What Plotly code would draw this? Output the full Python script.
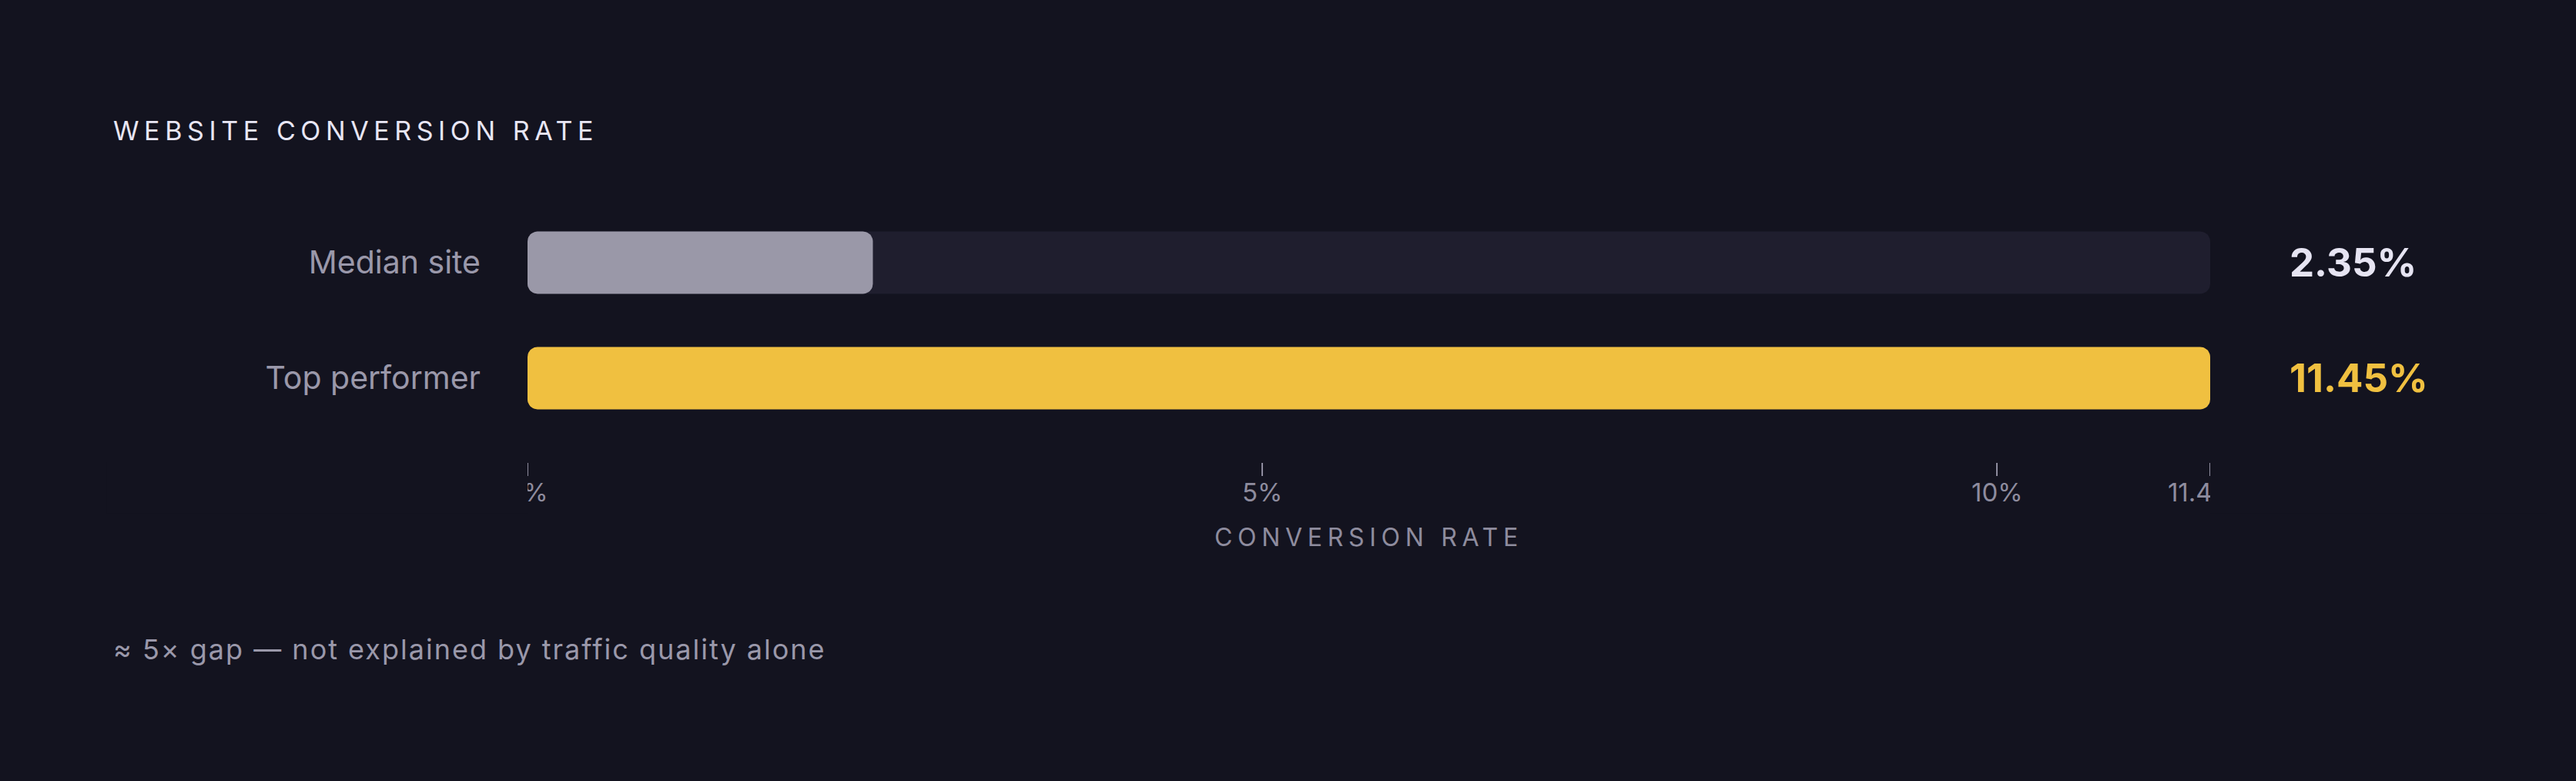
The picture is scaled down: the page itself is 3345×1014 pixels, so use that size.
import math
import plotly.graph_objects as go

# data
categories = ["Median site", "Top performer"]
rates = [2.35, 11.45]
value_labels = ["2.35%", "11.45%"]
tick_vals = [0, 5, 10, 11.45]
tick_text = ["0%", "5%", "10%", "11.45%"]

bg = "#13131f"
track_col = "#1f1e2e"
bar_cols = ["#9a98a8", "#f0c040"]
label_cols = ["#e6e4f2", "#f0c040"]
muted = "#9a98aa"

W, H = 3345, 1014
L, R, T, B = 685, 2870, 266, 600  # plot area in px
y_range = [1.727, -0.5]
bar_h = 0.54
radius_px = 13

xmax = max(rates)
x_per_px = xmax / (R - L)
y_per_px = abs(y_range[0] - y_range[1]) / (B - T)


def px(x):
    return (x - L) / (R - L)


def py(y):
    return (B - y) / (B - T)


def rounded_bar(fig, yc, value, color):
    # rounded rectangle from 0 to value, drawn as a filled scatter in data units
    rx = radius_px * x_per_px
    ry = radius_px * y_per_px
    x0, x1 = 0, value
    y0, y1 = yc - bar_h / 2, yc + bar_h / 2
    corners = [(x1 - rx, y0 + ry, -90), (x1 - rx, y1 - ry, 0),
               (x0 + rx, y1 - ry, 90), (x0 + rx, y0 + ry, 180)]
    xs, ys = [], []
    for cx, cy, a0 in corners:
        for k in range(11):
            a = math.radians(a0 + 9 * k)
            xs.append(cx + rx * math.cos(a))
            ys.append(cy + ry * math.sin(a))
    xs.append(xs[0])
    ys.append(ys[0])
    fig.add_trace(go.Scatter(x=xs, y=ys, mode="lines", fill="toself", fillcolor=color,
                             line=dict(width=0, color=color), hoverinfo="skip", showlegend=False))


fig = go.Figure()

# background track = full scale
for i, c in enumerate(categories):
    rounded_bar(fig, i, xmax, track_col)
for i, c in enumerate(categories):
    rounded_bar(fig, i, rates[i], bar_cols[i])

annotations = []
for i, (lab, col) in enumerate(zip(value_labels, label_cols)):
    annotations.append(dict(x=px(2971), y=i, xref="paper", yref="y", text=lab, showarrow=False,
                            xanchor="left", yanchor="middle",
                            font=dict(family="Inter", size=51, color=col, weight=700)))

annotations.append(dict(x=px(145), y=py(169), xref="paper", yref="paper",
                        text='<span style="letter-spacing:6.6px">WEBSITE CONVERSION RATE</span>',
                        showarrow=False, xanchor="left", yanchor="middle",
                        font=dict(family="Inter", size=34, color="#e8e6f4")))
annotations.append(dict(x=0.5, y=py(697), xref="paper", yref="paper",
                        text='<span style="letter-spacing:6.7px">CONVERSION RATE</span>',
                        showarrow=False, xanchor="center", yanchor="middle",
                        font=dict(family="Inter", size=32, color="#8e8c9e")))
annotations.append(dict(x=px(145), y=py(843), xref="paper", yref="paper",
                        text='<span style="letter-spacing:2px">≈ 5× gap — not explained by traffic quality alone</span>',
                        showarrow=False, xanchor="left", yanchor="middle",
                        font=dict(family="Inter", size=36, color=muted)))

# cover the tick-label overflow beyond the plot edges
shapes = [
    dict(type="rect", xref="paper", yref="paper", x0=-0.25, x1=0, y0=0, y1=-0.2,
         fillcolor=bg, line=dict(width=0), layer="above"),
    dict(type="rect", xref="paper", yref="paper", x0=1, x1=1.2, y0=0, y1=-0.2,
         fillcolor=bg, line=dict(width=0), layer="above"),
]

fig.update_layout(
    width=W, height=H,
    margin=dict(l=L, r=W - R, t=T, b=H - B, pad=0),
    paper_bgcolor=bg, plot_bgcolor=bg,
    showlegend=False,
    annotations=annotations,
    shapes=shapes,
    font=dict(family="Inter", color=muted),
    xaxis=dict(range=[0, xmax], tickvals=tick_vals, ticktext=tick_text,
               ticks="outside", ticklen=17, tickwidth=2, tickcolor="#8e8c9e",
               ticklabelstandoff=-7,
               tickfont=dict(family="Inter", size=33, color="#8e8c9e"),
               showgrid=False, zeroline=False, showline=False, fixedrange=True),
    yaxis=dict(range=y_range, tickvals=list(range(len(categories))), ticktext=categories,
               showgrid=False, zeroline=False, showline=False,
               ticks="", ticklabelstandoff=60,
               tickfont=dict(family="Inter", size=41, color=muted), fixedrange=True),
)

fig.write_html("out.html", config={"displayModeBar": False},
               post_script="document.body.style.margin='0';document.body.style.background='" + bg + "';")
